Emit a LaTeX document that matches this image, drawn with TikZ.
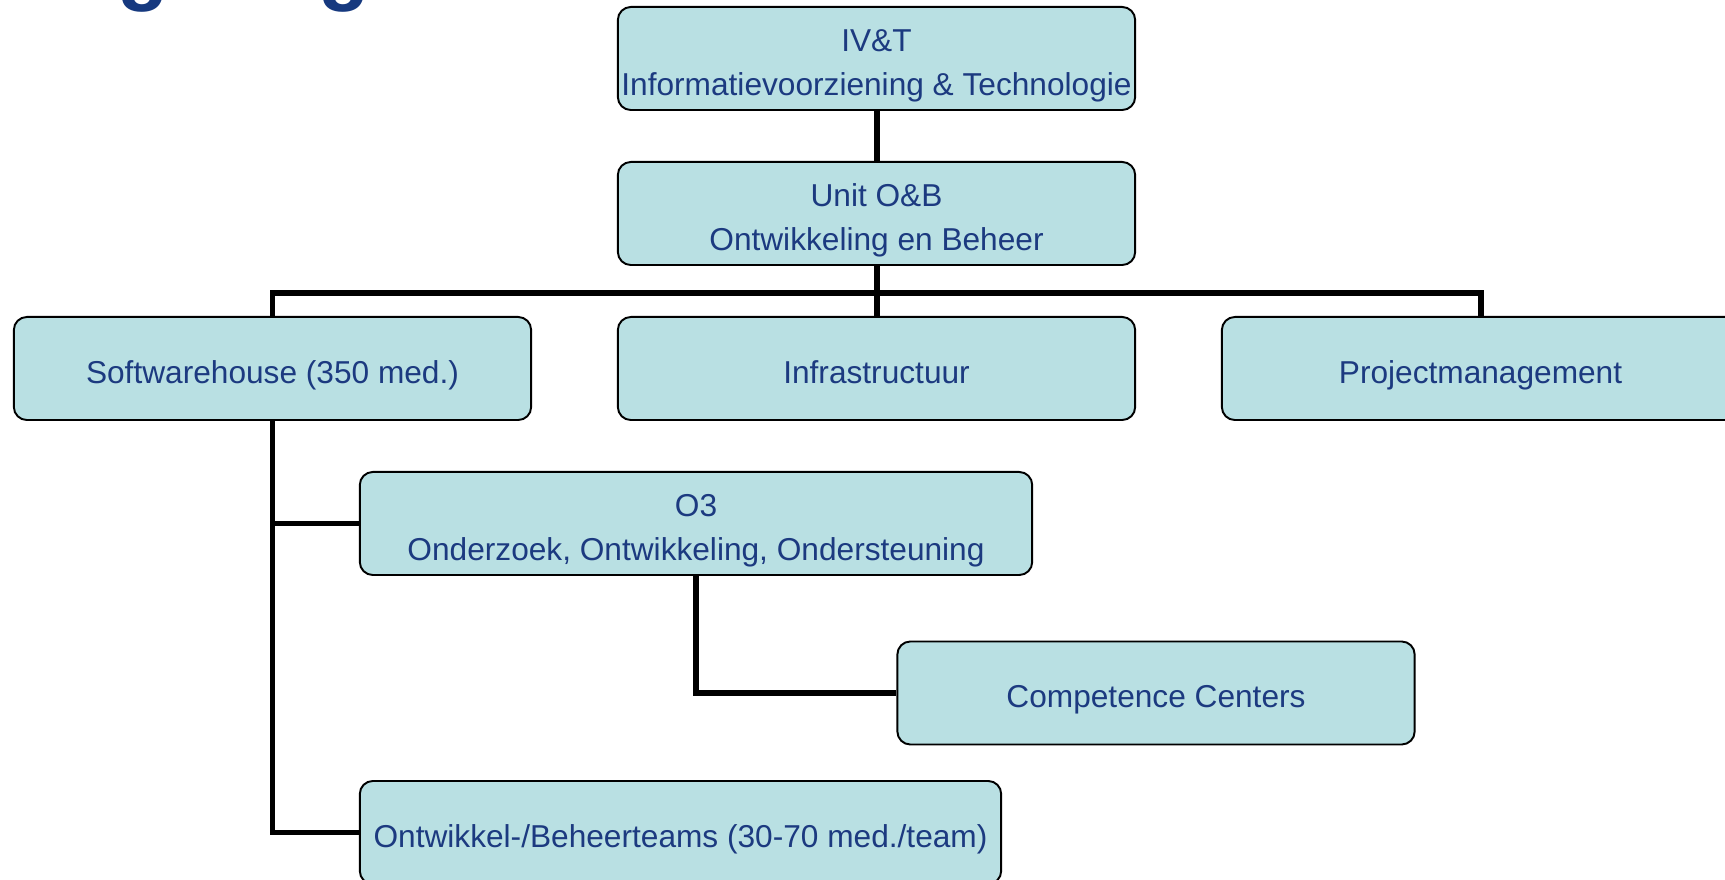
\documentclass[tikz,border=0pt]{standalone}
\usepackage{fontspec}
\setmainfont{Liberation Sans}
\usepackage{xcolor}
\usepackage{tikz}
\usetikzlibrary{calc, positioning}

\definecolor{boxfill}{RGB}{185,224,227}
\definecolor{orgblue}{RGB}{28,58,128}
\definecolor{titleblue}{RGB}{22,57,127}

\begin{document}
\begin{tikzpicture}[x=0.01cm,y=-0.01cm,
                    org node/.style={rectangle,rounded corners=0.13cm,draw,line width=0.55pt,
                      fill=boxfill,text=orgblue,align=center,inner sep=0pt,
                      minimum width=5.17cm,minimum height=1.03cm,
                      font=\fontsize{9}{12.5}\selectfont},
                    one line/.style={text height=8.4pt,text depth=0pt},
                    two lines/.style={text height=21pt,text depth=0pt},
                    link/.style={line width=1.7pt}]

  \clip (0,0) rectangle (1725,880);
  \useasboundingbox (0,0) rectangle (1725,880);

  % title, only its lower edge is in view
  \node[anchor=base west,inner sep=0pt,text=titleblue,
        font=\fontsize{23.9}{28}\selectfont\bfseries] (title) at (19,-5) {Organogram};

  \node[org node,two lines] (ivt) at (876.5,58.5) {IV\&T\\Informatievoorziening \& Technologie};
  \node[org node,two lines] (unit) at (876.5,213.5) {Unit O\&B\\Ontwikkeling en Beheer};
  \node[org node,one line] (sw) at (272.5,368.5) {Softwarehouse (350 med.)};
  \node[org node,one line] (infra) at (876.5,368.5) {Infrastructuur};
  \node[org node,one line] (pm) at (1480.5,368.5) {Projectmanagement};
  \node[org node,two lines,minimum width=6.72cm] (o3) at (696,523.5) {O3\\Onderzoek, Ontwikkeling, Ondersteuning};
  \node[org node,one line] (cc) at (1156,693) {Competence Centers};
  \node[org node,one line,minimum width=6.41cm] (teams) at (680.5,832.5) {Ontwikkel-/Beheerteams (30-70 med./team)};

  \coordinate (bus) at ($(unit.south)+(0,27)$);

  \draw[link] (ivt) -- (unit);
  \draw[link] (unit) -- (bus);
  \draw[link] (sw) |- (bus) -| (pm);
  \draw[link] (bus) -- (infra);
  \draw[link] (sw) |- (o3);
  \draw[link] (sw) |- (teams);
  \draw[link] (o3) |- (cc);

\end{tikzpicture}
\end{document}
